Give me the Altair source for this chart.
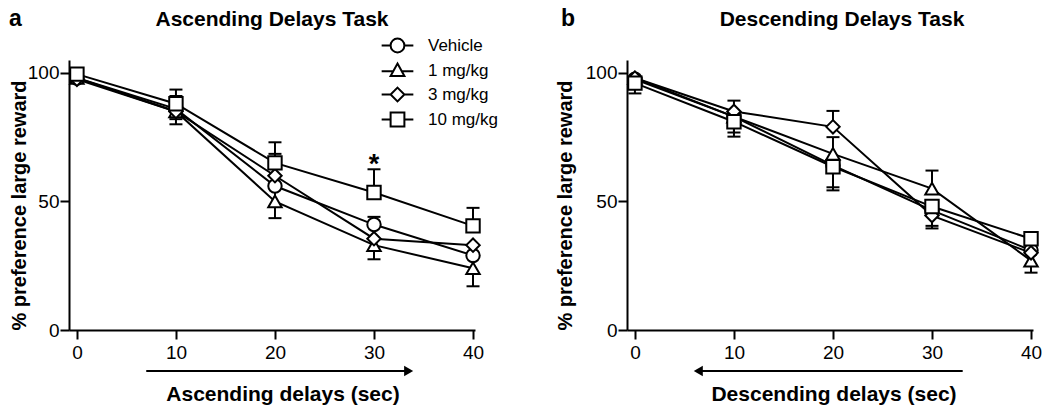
import altair as alt
import pandas as pd

# ---------------- data ----------------
delays = [0, 10, 20, 30, 40]
groups = ["Vehicle", "1 mg/kg", "3 mg/kg", "10 mg/kg"]
shapes = ["circle", "triangle-up", "diamond", "square"]

# Panel a: Ascending Delays Task (% preference large reward)
asc_vehicle = [98, 86, 56, 41, 29]
asc_1mg = [98, 85, 50, 33, 24]
asc_3mg = [97.5, 85, 60, 35.5, 33]
asc_10mg = [99.5, 88, 65, 53.5, 40.5]
# SEM bars (upper / lower part that is visible)
asc_vehicle_up = [0, 5, 0, 3, 0]
asc_vehicle_dn = [0, 0, 8, 0, 0]
asc_1mg_up = [0, 0, 0, 0, 0]
asc_1mg_dn = [0, 5, 6.5, 5.5, 7]
asc_3mg_up = [0, 0, 8.5, 0, 0]
asc_3mg_dn = [0, 3, 0, 0, 0]
asc_10mg_up = [0, 5.5, 8, 9, 7]
asc_10mg_dn = [0, 0, 0, 0, 0]

# Panel b: Descending Delays Task
desc_vehicle = [97.5, 83, 64, 46.5, 31]
desc_1mg = [98, 83, 68.5, 55, 27]
desc_3mg = [98, 85, 79, 44.5, 30]
desc_10mg = [96, 81, 63.5, 48, 35.5]
desc_vehicle_up = [0, 0, 0, 0, 0]
desc_vehicle_dn = [0, 7.8, 9.7, 7, 0]
desc_1mg_up = [0, 0, 6.5, 7, 0]
desc_1mg_dn = [0, 0, 0, 0, 4.7]
desc_3mg_up = [0, 4.2, 6.2, 0, 0]
desc_3mg_dn = [0, 0, 0, 4, 0]
desc_10mg_up = [0, 0, 0, 0, 1.5]
desc_10mg_dn = [4, 4.2, 8, 0, 0]

star_delay = [30]
star_pref = [61]

asc_arrow = [7, 33.5]
desc_arrow = [33.1, 6.4]

y_ticks = [0, 50, 100]

# legend symbols: marker with a line segment through it (unit-box SVG paths)
TAIL = "M-2.3,0H-1M1,0H2.3"
legend_paths = [
    TAIL + "M1,0A1,1 0 1,1 -1,0A1,1 0 1,1 1,0Z",
    "M-2.3,0.1H-0.5M0.5,0.1H2.3M0,-1L1,0.8L-1,0.8Z",
    TAIL + "M0,-1L1,0L0,1L-1,0Z",
    TAIL + "M-1,-1H1V1H-1Z",
]

FONT = "Liberation Sans"
W, H = 406, 270


def build(vals, ups, dns):
    rows, err = [], []
    for g, v, u, d in zip(groups, vals, ups, dns):
        for x, y, eu, ed in zip(delays, v, u, d):
            rows.append({"delay": x, "pref": y, "grp": g})
            if eu > 0:
                err.append({"delay": x, "y1": y, "y2": y + eu})
            if ed > 0:
                err.append({"delay": x, "y1": y, "y2": y - ed})
    return pd.DataFrame(rows), pd.DataFrame(err)


def panel(vals, ups, dns, title, title_x, letter, letter_x, xtitle, xtitle_x,
          arrow, head_shape, ytitle_x, legend, star):
    df, err = build(vals, ups, dns)
    xs = alt.Scale(domain=[-0.8, 40.2], nice=False, zero=False)
    ys = alt.Scale(domain=[0, 105], nice=False, zero=False)
    xax = alt.Axis(values=delays, title=None, labelPadding=4)
    yax = alt.Axis(values=y_ticks, title="% preference large reward",
                   titleAngle=270, titleBaseline="bottom", titleAlign="center",
                   titleX=ytitle_x, titleY=H / 2 + 10, labelPadding=1)
    X = lambda f: alt.X(f, type="quantitative", scale=xs, axis=xax)
    Y = lambda f: alt.Y(f, type="quantitative", scale=ys, axis=yax)

    rules = alt.Chart(err).mark_rule(color="black", strokeWidth=2).encode(
        x=X("delay"), y=Y("y1"), y2="y2")
    caps = alt.Chart(err).mark_tick(orient="horizontal", size=13, thickness=2,
                                    color="black", opacity=1).encode(
        x=X("delay"), y=Y("y2"))

    lines = alt.Chart(df).mark_line(strokeWidth=2, color="black").encode(
        x=X("delay"), y=Y("pref"), detail="grp:N")
    pts = alt.Chart(df).mark_point(filled=False, fill="white", stroke="black",
                                   strokeWidth=2, size=180, opacity=1,
                                   fillOpacity=1, strokeOpacity=1).encode(
        x=X("delay"), y=Y("pref"),
        shape=alt.Shape("grp:N", sort=groups,
                        scale=alt.Scale(domain=groups, range=shapes),
                        legend=None))

    ttl = alt.Chart(pd.DataFrame({"t": [title]})).mark_text(
        font=FONT, fontSize=21, fontWeight="bold", align="center",
        baseline="alphabetic", color="black").encode(
        x=alt.value(title_x), y=alt.value(-34), text="t:N")
    let = alt.Chart(pd.DataFrame({"t": [letter]})).mark_text(
        font=FONT, fontSize=23, fontWeight="bold", align="left",
        baseline="alphabetic", color="black").encode(
        x=alt.value(letter_x), y=alt.value(-34), text="t:N")
    xt = alt.Chart(pd.DataFrame({"t": [xtitle]})).mark_text(
        font=FONT, fontSize=21, fontWeight="bold", align="center",
        baseline="alphabetic", color="black").encode(
        x=alt.value(xtitle_x), y=alt.value(H + 71), text="t:N")
    adf = pd.DataFrame({"a0": [arrow[0]], "a1": [arrow[1]]})
    shaft = alt.Chart(adf).mark_rule(color="black", strokeWidth=2).encode(
        x=X("a0"), x2="a1", y=alt.value(H + 41))
    head = alt.Chart(adf).mark_point(shape=head_shape, filled=True, color="black",
                                     size=110, opacity=1).encode(
        x=X("a1"), y=alt.value(H + 41))

    layers = [rules, caps, lines, pts, ttl, let, xt, shaft, head]
    if star:
        sdf = pd.DataFrame({"delay": star_delay, "pref": star_pref})
        layers.append(alt.Chart(sdf).mark_text(
            text="*", font=FONT, fontSize=27, fontWeight="bold", align="center",
            baseline="alphabetic", color="black").encode(x=X("delay"), y=Y("pref")))
    if legend:
        leg = alt.Legend(title=None, orient="none", legendX=320, legendY=-23,
                         labelFontSize=17, labelFont=FONT, labelColor="black",
                         labelOffset=22, symbolSize=190, symbolStrokeWidth=2,
                         symbolOpacity=1, rowPadding=2)
        key = alt.Chart(df).transform_filter("false").mark_point(
            filled=False, fill="white", stroke="black", strokeWidth=2, size=190,
            opacity=1, fillOpacity=1).encode(
            x=X("delay"), y=Y("pref"),
            shape=alt.Shape("grp:N", sort=groups,
                            scale=alt.Scale(domain=groups, range=legend_paths),
                            legend=leg))
        layers.append(key)
    return alt.layer(*layers).resolve_scale(shape="independent").properties(
        width=W, height=H)


left = panel([asc_vehicle, asc_1mg, asc_3mg, asc_10mg],
             [asc_vehicle_up, asc_1mg_up, asc_3mg_up, asc_10mg_up],
             [asc_vehicle_dn, asc_1mg_dn, asc_3mg_dn, asc_10mg_dn],
             "Ascending Delays Task", 203, "a", -60, "Ascending delays (sec)", 214,
             asc_arrow, "triangle-right", -40, True, True)
right = panel([desc_vehicle, desc_1mg, desc_3mg, desc_10mg],
              [desc_vehicle_up, desc_1mg_up, desc_3mg_up, desc_10mg_up],
              [desc_vehicle_dn, desc_1mg_dn, desc_3mg_dn, desc_10mg_dn],
              "Descending Delays Task", 215, "b", -66, "Descending delays (sec)", 207,
              desc_arrow, "triangle-left", -52, False, False)

chart = alt.hconcat(left, right, spacing=152, bounds="flush").resolve_scale(
    x="independent", y="independent", shape="independent"
).resolve_legend(shape="independent").properties(
    padding={"left": 0, "top": 0, "right": 0, "bottom": 0}
).configure(font=FONT).configure_view(strokeWidth=0).configure_axis(
    domainColor="black", domainWidth=2, tickColor="black", tickWidth=2, tickSize=9,
    labelFontSize=19, labelColor="black", labelFont=FONT, grid=False,
    titleFont=FONT, titleFontSize=20, titleFontWeight="bold", titleColor="black")

chart.save("out.html", embed_options={"renderer": "svg", "actions": False})
